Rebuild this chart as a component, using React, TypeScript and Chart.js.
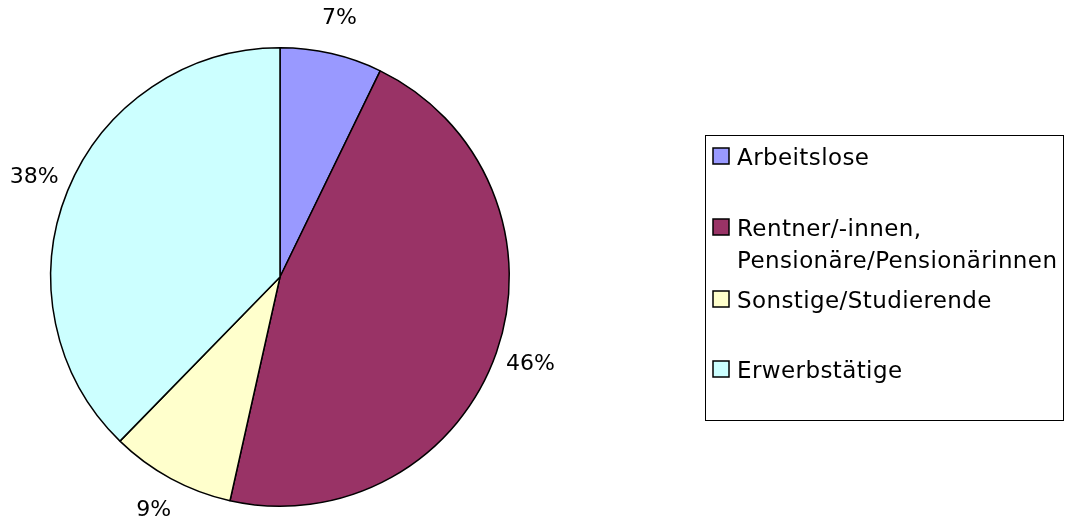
import React, { useEffect, useRef } from "react";
import { Chart, registerables } from "chart.js";

Chart.register(...registerables);

const categories: string[] = [
  "Arbeitslose",
  "Rentner/-innen,\nPensionäre/Pensionärinnen",
  "Sonstige/Studierende",
  "Erwerbstätige",
];
const shares: number[] = [7.2, 46.3, 8.8, 37.7];
const colors: string[] = ["#9999FF", "#993366", "#FFFFCC", "#CCFFFF"];
const valueLabels: string[] = ["7%", "46%", "9%", "38%"];

const FONT = "23px 'DejaVu Sans'";
const LABEL_FONT = "22px 'DejaVu Sans'";

const overlayPlugin = {
  id: "overlay",
  afterDraw(chart: any) {
    const ctx = chart.ctx as CanvasRenderingContext2D;
    const meta = chart.getDatasetMeta(0);
    ctx.save();
    ctx.font = LABEL_FONT;
    ctx.fillStyle = "#000";
    ctx.textAlign = "center";
    ctx.textBaseline = "middle";
    meta.data.forEach((arc: any, i: number) => {
      const mid = (arc.startAngle + arc.endAngle) / 2;
      const r = arc.outerRadius + 36;
      ctx.fillText(valueLabels[i], arc.x + Math.cos(mid) * r, arc.y + Math.sin(mid) * r);
    });

    // legend box
    ctx.font = FONT;
    (ctx as any).letterSpacing = "0.4px";
    const bx = 705.5, by = 135.5, bw = 358, bh = 285;
    ctx.lineWidth = 1;
    ctx.strokeStyle = "#000";
    ctx.strokeRect(bx, by, bw, bh);
    const baselines = [165, 236, 308, 378];
    ctx.textAlign = "left";
    ctx.textBaseline = "alphabetic";
    categories.forEach((label, i) => {
      const base = baselines[i];
      ctx.fillStyle = colors[i];
      ctx.fillRect(713, base - 17, 16, 16);
      ctx.lineWidth = 1.5;
      ctx.strokeStyle = "#000";
      ctx.strokeRect(713, base - 17, 16, 16);
      ctx.fillStyle = "#000";
      label.split("\n").forEach((line, j) => {
        ctx.fillText(line, 737, base + j * 32);
      });
    });
    ctx.restore();
  },
};

export default function App() {
  const ref = useRef<HTMLCanvasElement>(null);
  useEffect(() => {
    if (!ref.current) return;
    const chart = new Chart(ref.current, {
      type: "pie",
      data: {
        labels: categories,
        datasets: [
          {
            data: shares,
            backgroundColor: colors,
            borderColor: "#000",
            borderWidth: 1.5,
            borderAlign: "center",
          } as any,
        ],
      },
      options: {
        animation: false,
        responsive: false,
        maintainAspectRatio: false,
        layout: { padding: { left: 50, top: 47, right: 560, bottom: 17 } },
        plugins: {
          legend: { display: false },
          tooltip: { enabled: false },
        },
      },
      plugins: [overlayPlugin],
    });
    return () => chart.destroy();
  }, []);
  return (
    <div style={{ position: "fixed", left: 0, top: 0, width: 1070, height: 524, background: "#fff" }}>
      <canvas ref={ref} width={1070} height={524} style={{ width: 1070, height: 524 }} />
    </div>
  );
}
